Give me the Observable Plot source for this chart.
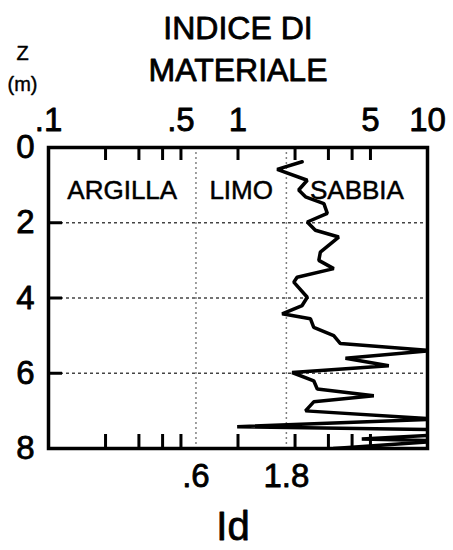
<!DOCTYPE html>
<html>
<head>
<meta charset="utf-8">
<script src="https://cdn.jsdelivr.net/npm/d3@7"></script>
<script src="https://cdn.jsdelivr.net/npm/@observablehq/plot@0.6"></script>
<style>
  html, body { margin: 0; padding: 0; background: #fff; }
  #chart svg { display: block; font-family: "Liberation Sans", Arial, sans-serif; }
</style>
</head>
<body>
<div id="chart"></div>
<script>
// Material index Id profile with depth (CPT/DMT style log)
const depthM = [0.38, 0.58, 0.87, 1.13, 1.31, 1.49, 1.75, 1.98, 2.2, 2.38, 2.78, 3.0, 3.22, 3.45, 3.58, 3.98,
  4.2, 4.42, 4.55, 4.78, 5.0, 5.21, 5.4, 5.6, 5.8, 5.98, 6.2, 6.42, 6.6, 6.76, 7.0, 7.22, 7.42, 7.5, 7.62, 7.75, 7.8, 8.0];
const idValues = [2.18, 1.61, 2.32, 2.09, 2.27, 2.84, 2.96, 2.32, 2.56, 3.4, 2.72, 2.67, 3.2, 2.05, 1.97, 2.32,
  2.18, 1.71, 2.41, 2.51, 3.2, 3.47, 10.5, 3.69, 6.25, 1.93, 2.51, 2.62, 5.21, 2.51, 2.27, 11, 0.99, 12, 13, 4.5, 12, 3.2];

// Axis ticks and labels
const topTickLabels = [0.1, 0.5, 1, 5, 10];
const minorTicks = [0.2, 0.3, 0.4, 0.5, 1, 2, 3, 4, 5];
const depthTicks = [0, 2, 4, 6, 8];
const gridDepths = [2, 4, 6];

// Soil classes separated by Id thresholds
const zoneBounds = [0.1, 0.6, 1.8, 10];
const zoneNames = ["ARGILLA", "LIMO", "SABBIA"];

const titleLines = ["INDICE DI", "MATERIALE"];
const depthLabel = ["Z", "(m)"];
const xLabel = "Id";

const profile = depthM.map((d, i) => ({depth: d, id: idValues[i]}));
const thresholds = zoneBounds.slice(1, -1);
const zones = zoneNames.map((name, i) => ({name, center: Math.sqrt(zoneBounds[i] * zoneBounds[i + 1])}));
const fmt = (v) => (v > 0 && v < 1 ? String(v).replace(/^0/, "") : String(v));

const W = 453, H = 550, mt = 147, mb = 102, ml = 48, mr = 26;
const innerW = W - ml - mr, innerH = H - mt - mb;
const xDomain = [0.1, 10], yDomain = [0, 8];

// inward tick lengths (px) expressed in scale units
const depthPerPx = (yDomain[1] - yDomain[0]) / innerH;
const decadesPerPx = Math.log10(xDomain[1] / xDomain[0]) / innerW;
const topTickEnd = yDomain[0] + 13 * depthPerPx;
const bottomTickStart = yDomain[1] - 14 * depthPerPx;
const leftTickEnd = xDomain[0] * Math.pow(10, 14 * decadesPerPx);

const textStyle = {fill: "black", stroke: "black", strokeWidth: 0.8, paintOrder: "stroke"};

const chart = Plot.plot({
  width: W,
  height: H,
  marginTop: mt,
  marginBottom: mb,
  marginLeft: ml,
  marginRight: mr,
  x: {type: "log", domain: xDomain, axis: null},
  y: {domain: yDomain, reverse: true, axis: null},
  marks: [
    Plot.ruleX(thresholds, {stroke: "#808080", strokeWidth: 1.5, strokeDasharray: "2,3"}),
    Plot.ruleY(gridDepths, {stroke: "#444", strokeWidth: 1.5, strokeDasharray: "3,3"}),
    Plot.text(zones, {x: "center", text: "name", frameAnchor: "top", dy: 33, fontSize: 26, ...textStyle, strokeWidth: 0.5}),
    Plot.line(profile, {x: "id", y: "depth", stroke: "black", strokeWidth: 3.5, clip: true, strokeLinejoin: "miter"}),
    // inward tick marks
    Plot.ruleX(minorTicks, {x: (d) => d, y1: yDomain[0], y2: topTickEnd, stroke: "black", strokeWidth: 3}),
    Plot.ruleX(minorTicks, {x: (d) => d, y1: bottomTickStart, y2: yDomain[1], stroke: "black", strokeWidth: 3}),
    Plot.ruleY(gridDepths, {y: (d) => d, x1: xDomain[0], x2: leftTickEnd, stroke: "black", strokeWidth: 3}),
    // tick labels
    Plot.text(topTickLabels, {x: (d) => d, text: fmt, frameAnchor: "top", dy: -27, fontSize: 33, lineAnchor: "middle", ...textStyle}),
    Plot.text(thresholds, {x: (d) => d, text: fmt, frameAnchor: "bottom", dy: 28, fontSize: 33, lineAnchor: "middle", ...textStyle}),
    Plot.text(depthTicks, {y: (d) => d, text: fmt, frameAnchor: "left", dx: -23, fontSize: 33, textAnchor: "middle", lineAnchor: "middle", ...textStyle}),
    Plot.frame({stroke: "black", strokeWidth: 3.5}),
    // titles
    Plot.text([titleLines.join("\n")], {frameAnchor: "top", dy: -101, lineHeight: 1.31, fontSize: 32, lineAnchor: "middle", ...textStyle}),
    Plot.text([depthLabel.join("\n")], {frameAnchor: "top-left", dx: -26, dy: -82, lineHeight: 1.55, fontSize: 20, lineAnchor: "middle", textAnchor: "middle", ...textStyle, strokeWidth: 0.4}),
    Plot.text([xLabel], {frameAnchor: "bottom", dx: -5, dy: 79, fontSize: 40, lineAnchor: "middle", ...textStyle})
  ]
});
document.getElementById("chart").appendChild(chart);
</script>
</body>
</html>
